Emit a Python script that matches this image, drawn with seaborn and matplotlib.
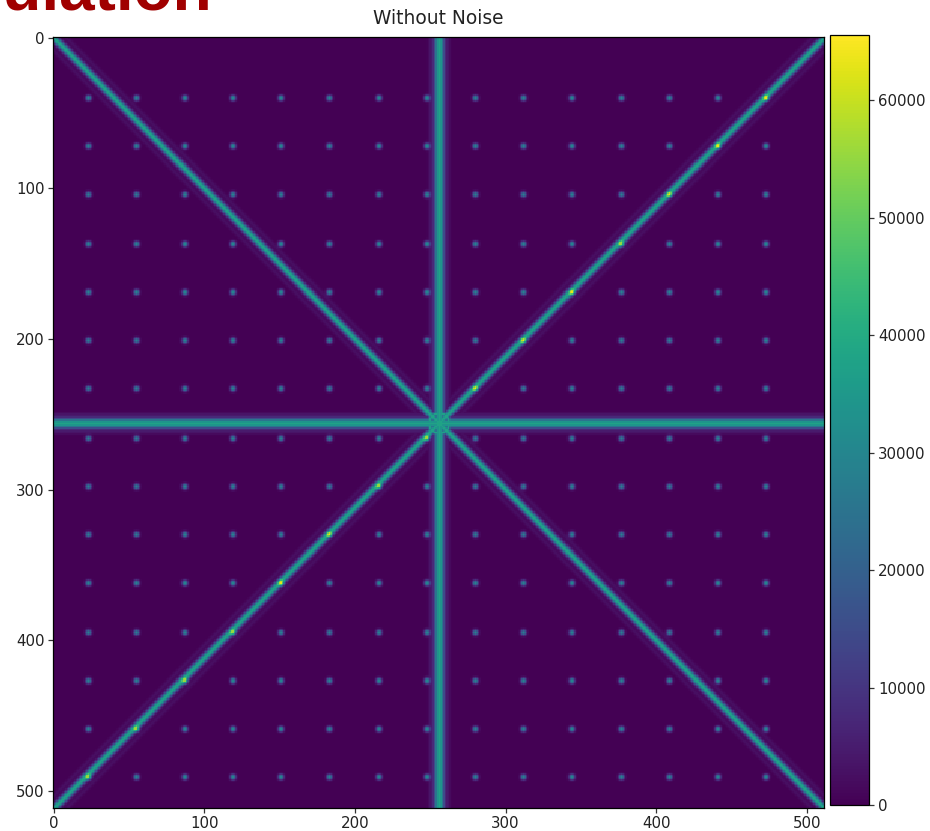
import numpy as np
import matplotlib
matplotlib.use("Agg")
import matplotlib.pyplot as plt
import seaborn as sns

# image geometry (pixels)
img_size = 512
center = 256

# lines through the centre: angle (deg), width (sigma, px), peak value
line_angles = [0, 45, 90, 135]
line_sigmas = [2.2, 1.6, 2.2, 1.6]
line_peak = 38000
# faint side fringes next to each line
fringe_offset = 6.0
fringe_peak = 2500

# ring at the centre
ring_radius = 6.5
ring_sigma = 1.0
ring_peak = 38000

# grid of point sources
dot_x = [23, 55, 87, 119, 151, 183, 216, 248, 280, 312, 344, 377, 409, 441, 473]
dot_y = [40, 72, 104, 137, 169, 201, 233, 266, 298, 330, 362, 395, 427, 459, 491]
dot_sigma = 1.3
dot_peak = 29000

vmax = 65535
x_ticks = [0, 100, 200, 300, 400, 500]
y_ticks = [0, 100, 200, 300, 400, 500]
cbar_ticks = [0, 10000, 20000, 30000, 40000, 50000, 60000]

# build the image
yy, xx = np.mgrid[0:img_size, 0:img_size].astype(float)
img = np.zeros((img_size, img_size))
for ang, sig in zip(line_angles, line_sigmas):
    t = np.deg2rad(ang)
    d = -(xx - center) * np.sin(t) + (yy - center) * np.cos(t)
    prof = line_peak * np.exp(-0.5 * (d / sig) ** 2)
    prof += fringe_peak * np.exp(-0.5 * ((np.abs(d) - fringe_offset) / 1.0) ** 2)
    img = np.maximum(img, prof)
r = np.hypot(xx - center, yy - center)
img = np.maximum(img, ring_peak * np.exp(-0.5 * ((r - ring_radius) / ring_sigma) ** 2))
for py in dot_y:
    for px in dot_x:
        img += dot_peak * np.exp(-0.5 * ((xx - px) ** 2 + (yy - py) ** 2) / dot_sigma ** 2)
img = np.clip(img, 0, vmax)

fig = plt.figure(figsize=(9.3, 8.31), dpi=100)
W, H = 930, 831
ax = fig.add_axes([53 / W, (H - 808) / H, 771 / W, 771 / H])
cax = fig.add_axes([830 / W, (H - 805) / H, 39 / W, 770 / H])

sns.heatmap(img, ax=ax, cbar_ax=cax, cmap="viridis", vmin=0, vmax=vmax,
            square=False, rasterized=True, xticklabels=False, yticklabels=False)

ax.set_xticks(np.array(x_ticks) + 0.5)
ax.set_xticklabels([str(v) for v in x_ticks], rotation=0)
ax.set_yticks(np.array(y_ticks) + 0.5)
ax.set_yticklabels([str(v) for v in y_ticks], rotation=0)
ax.tick_params(length=3.5, width=0.9, labelsize=10.8, pad=2.5, color="#333333",
               labelcolor="#222222")
for s in ax.spines.values():
    s.set_visible(True)
    s.set_linewidth(0.9)
ax.set_title("Without Noise", fontsize=13.4, pad=9, color="#222222")

cb = ax.collections[0].colorbar
cb.set_ticks(cbar_ticks)
cb.set_ticklabels([str(v) for v in cbar_ticks])
cb.outline.set_visible(True)
cb.outline.set_linewidth(0.9)
cax.tick_params(length=3.5, width=0.9, labelsize=10.8, pad=3, color="#333333",
                labelcolor="#222222")

# slide title, cut off by the screenshot edge
fig.text(212 / W, 1 - 10 / H, "Simulation", ha="right", va="baseline",
         fontsize=46, fontweight="bold", color="#a00000",
         family=["Liberation Sans", "DejaVu Sans"])

fig.savefig("out.png", dpi=100)
